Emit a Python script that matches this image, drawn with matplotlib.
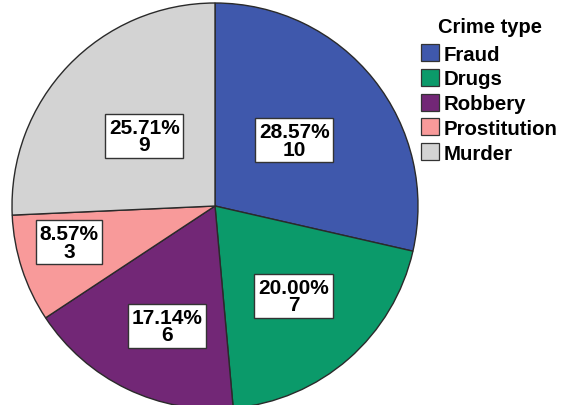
import numpy as np
import matplotlib
matplotlib.use("Agg")
import matplotlib.pyplot as plt
from matplotlib.patches import Patch

categories = ["Fraud", "Drugs", "Robbery", "Prostitution", "Murder"]
counts = [10, 7, 6, 3, 9]
colors = ["#3F58AC", "#0B9A6A", "#722776", "#F89A9A", "#D3D3D3"]
label_dist = [0.507, 0.588, 0.635, 0.741, 0.49]
label_ang_off = [1, 0, 4, -4, -1]

plt.rcParams['font.family'] = ['Liberation Sans', 'DejaVu Sans']

W, H = 568, 406
fig = plt.figure(figsize=(W / 100, H / 100), dpi=100)
cx, cy, r = 215, 207, 203
ax = fig.add_axes([(cx - r) / W, (H - cy - r) / H, 2 * r / W, 2 * r / H])
wedges, _ = ax.pie(counts, colors=colors, startangle=90, counterclock=False,
                   wedgeprops=dict(edgecolor="#2a2a2a", linewidth=1.0), radius=1)
ax.set_xlim(-1, 1)
ax.set_ylim(-1, 1)
ax.set_aspect('equal')
ax.axis('off')

total = sum(counts)
for w, c, d, off in zip(wedges, counts, label_dist, label_ang_off):
    ang = np.deg2rad((w.theta1 + w.theta2) / 2 + off)
    x, y = d * np.cos(ang), d * np.sin(ang)
    ax.text(x, y, f"{100 * c / total:.2f}%\n{c}", ha='center', va='center',
            fontsize=15, fontweight='bold', linespacing=0.9,
            bbox=dict(boxstyle='square,pad=0.18', facecolor='white',
                      edgecolor='#333333', linewidth=1.0))

fig.text(490 / W, 1 - 33 / H, "Crime type", ha='center', va='baseline',
         fontsize=14.5, fontweight='bold')
handles = [Patch(facecolor=col, edgecolor='#333333', linewidth=0.9) for col in colors]
leg = fig.legend(handles, categories, loc='upper left',
                 bbox_to_anchor=(421 / W, 1 - 45 / H), frameon=False,
                 prop=dict(weight='bold', size=14.7),
                 handlelength=0.9, handleheight=0.9, handletextpad=0.2,
                 labelspacing=0.26, borderpad=0.0, borderaxespad=0)

fig.savefig("out.png", dpi=100)
